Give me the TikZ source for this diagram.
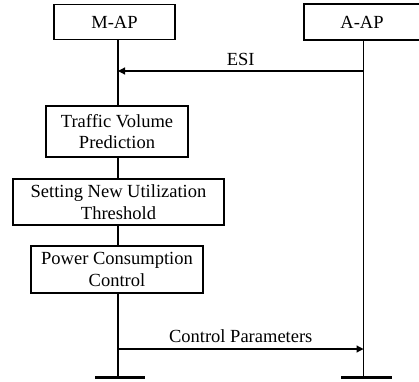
\documentclass[tikz,border=0pt]{standalone}
\usepackage{fontspec}
\setmainfont{Liberation Serif}
\usetikzlibrary{arrows.meta}
\begin{document}
\begin{tikzpicture}[x=1pt,y=-1pt,
  box/.style={draw,line width=1.4pt,inner sep=0pt,align=center,font=\fontsize{18.5}{21.5}\selectfont},
  life/.style={line width=1.4pt},
  msg/.style={line width=1.2pt,-{Triangle[length=7pt,width=7pt]}},
  lbl/.style={font=\fontsize{18.5}{21.5}\selectfont,inner sep=0pt},
  bar/.style={fill=black,draw=none}]
\useasboundingbox (0,0) rectangle (419,381);
\node[box,minimum width=121pt,minimum height=35pt] (map) at (114.5,22) {M-AP};
\node[box,minimum width=116pt,minimum height=36pt] (aap) at (362,22) {A-AP};
\node[box,minimum width=142pt,minimum height=51pt] (tvp) at (117,131.5) {Traffic Volume\\Prediction};
\node[box,minimum width=211pt,minimum height=46pt] (snut) at (118.5,202) {Setting New Utilization\\Threshold};
\node[box,minimum width=172pt,minimum height=47pt] (pcc) at (117,269.5) {Power Consumption\\Control};
\coordinate (mline) at (118,0);
\coordinate (aline) at (363.5,0);
\coordinate (mend) at (118,377);
\coordinate (aend) at (363.5,377);
\coordinate (esiA) at (363.5,71);
\coordinate (esiM) at (118,71);
\coordinate (cpM) at (118,349);
\coordinate (cpA) at (363.5,349);
\draw[life] (map.south -| mline) -- (tvp.north -| mline);
\draw[life] (tvp.south -| mline) -- (snut.north -| mline);
\draw[life] (snut.south -| mline) -- (pcc.north -| mline);
\draw[life] (pcc.south -| mline) -- (mend);
\draw[life] (aap.south -| aline) -- (aend);
\draw[msg] (esiA) -- node[lbl,above=5pt] (esilbl) {ESI} (esiM);
\draw[msg] (cpM) -- node[lbl,above=6pt] (cplbl) {Control Parameters} (cpA);
\node[bar,minimum width=50pt,minimum height=3.5pt,inner sep=0pt] (mbar) at (120,377.5) {};
\node[bar,minimum width=51pt,minimum height=3.5pt,inner sep=0pt] (abar) at (366.5,377.5) {};
\end{tikzpicture}
\end{document}
